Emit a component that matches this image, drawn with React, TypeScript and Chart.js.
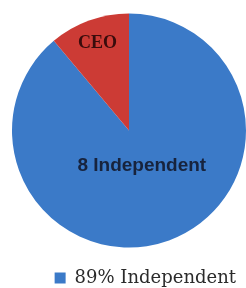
import React, { useEffect, useRef } from "react";
import { Chart, registerables } from "chart.js";

Chart.register(...registerables);

const categories = ["Independent", "CEO"];
const values = [8, 1];
const sliceColors = ["#3b7ac8", "#cc3b35"];
const insideLabels = [`${values[0]} ${categories[0]}`, categories[1]];
const total = values.reduce((a, b) => a + b, 0);
const legendLabels = categories.map((c, i) => `${Math.round((values[i] / total) * 100)}% ${c}`);

const sliceLabelPlugin = {
  id: "sliceLabels",
  afterDatasetsDraw(chart: any) {
    const meta = chart.getDatasetMeta(0);
    const ctx = chart.ctx;
    const styles = [
      { frac: 0.32, font: "bold 19px 'Liberation Sans', Arial, sans-serif", color: "#17233d" },
      { frac: 0.79, font: "bold 18px 'Liberation Serif', 'Times New Roman', serif", color: "#3a0c0c" },
    ];
    meta.data.forEach((arc: any, i: number) => {
      const p = arc.getProps(["x", "y", "startAngle", "endAngle", "outerRadius"], true);
      const mid = (p.startAngle + p.endAngle) / 2;
      const r = p.outerRadius * styles[i].frac;
      ctx.save();
      ctx.font = styles[i].font;
      ctx.fillStyle = styles[i].color;
      ctx.textAlign = "center";
      ctx.textBaseline = "middle";
      ctx.fillText(insideLabels[i], p.x + Math.cos(mid) * r, p.y + Math.sin(mid) * r);
      ctx.restore();
    });
  },
};

export default function App() {
  const ref = useRef<HTMLCanvasElement>(null);
  useEffect(() => {
    if (!ref.current) return;
    const chart = new Chart(ref.current, {
      type: "pie",
      data: {
        labels: categories,
        datasets: [
          {
            data: values,
            backgroundColor: sliceColors,
            borderWidth: 0,
          },
        ],
      },
      options: {
        animation: false,
        responsive: true,
        maintainAspectRatio: false,
        layout: { padding: { left: 12, right: 0, top: 2, bottom: -9 } },
        plugins: {
          tooltip: { enabled: false },
          legend: {
            position: "bottom",
            align: "end",
            labels: {
              boxWidth: 11,
              boxHeight: 11,
              color: "#2b2b2b",
              font: { family: "'DejaVu Serif', serif", size: 18 },
              generateLabels: () =>
                legendLabels.map((t, i) => ({
                  text: t,
                  fillStyle: sliceColors[i],
                  strokeStyle: sliceColors[i],
                  lineWidth: 0,
                  hidden: false,
                  index: i,
                  fontColor: "#2b2b2b",
                })),
              filter: (item: any) => item.index === 0,
            },
          },
        },
      },
      plugins: [sliceLabelPlugin],
    });
    return () => chart.destroy();
  }, []);
  return (
    <div style={{ position: "absolute", left: 0, top: 0, width: 246, height: 288, background: "#fff" }}>
      <canvas ref={ref} />
    </div>
  );
}
